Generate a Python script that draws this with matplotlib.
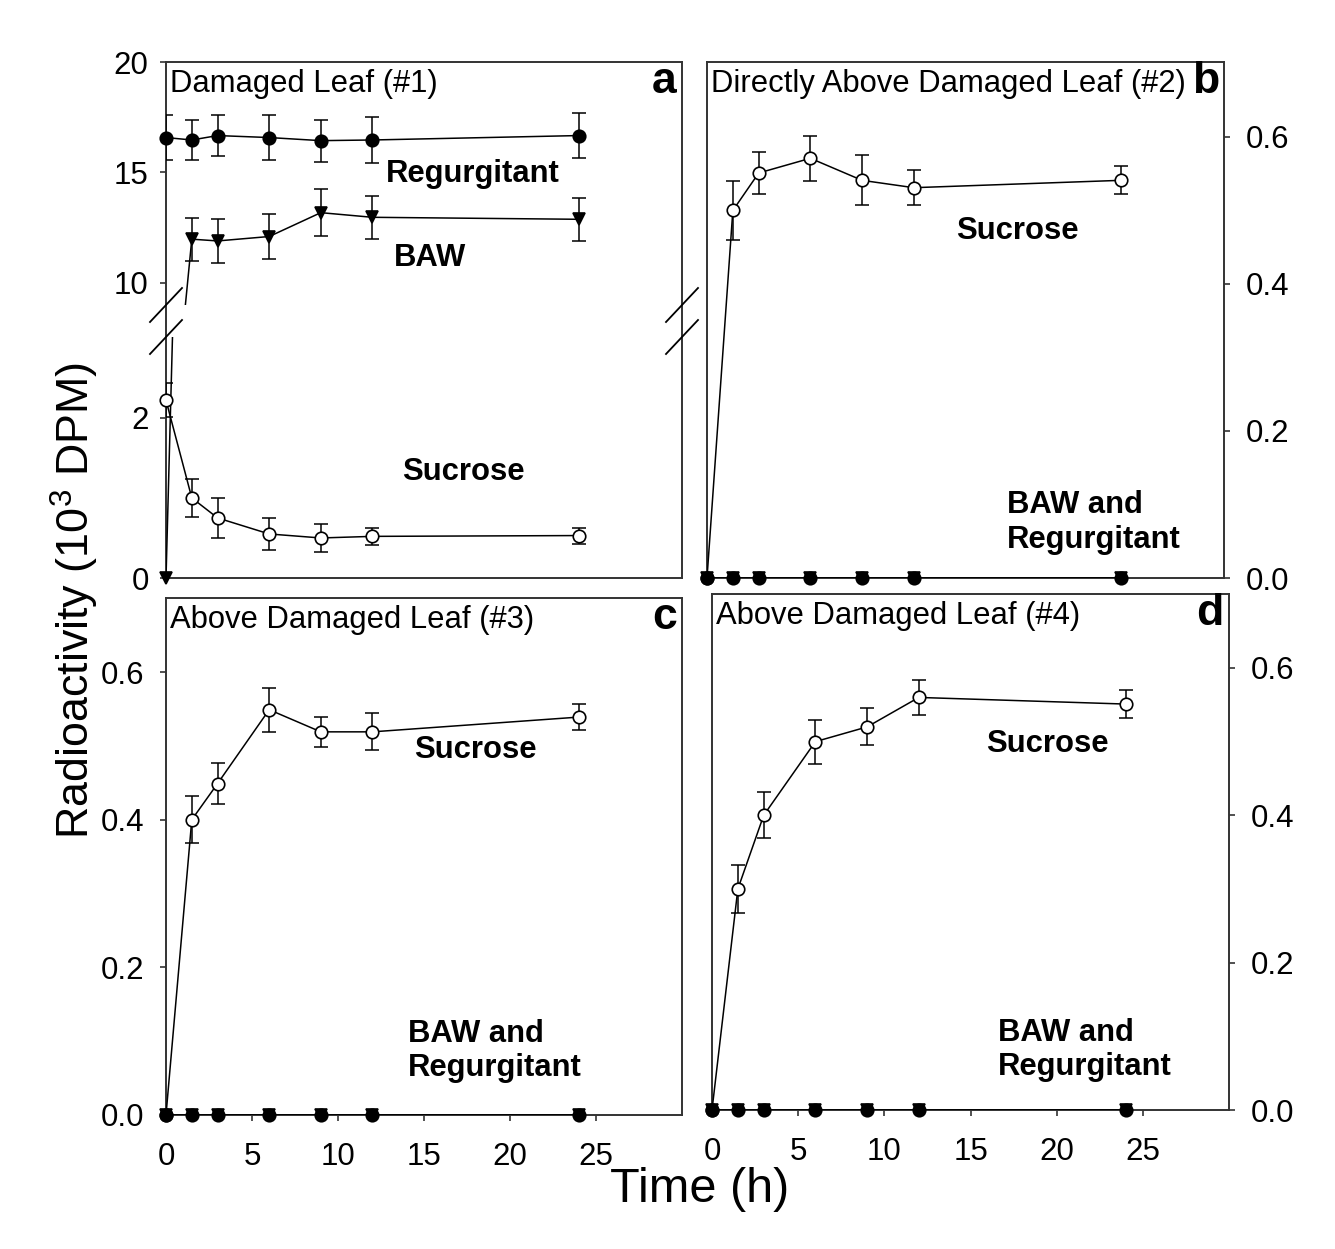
import numpy as np
import matplotlib
matplotlib.use("Agg")
import matplotlib.pyplot as plt
from matplotlib.lines import Line2D

plt.rcParams["font.family"] = ["Liberation Sans", "DejaVu Sans"]
plt.rcParams["mathtext.fontset"] = "custom"
plt.rcParams["mathtext.rm"] = "Liberation Sans"

##### data (10^3 DPM)
time_h = [0, 1.5, 3, 6, 9, 12, 24]

a_regurg = [16.58, 16.47, 16.67, 16.58, 16.44, 16.47, 16.67]
a_regurg_err = [1.02, 0.89, 0.93, 1.02, 0.95, 1.02, 1.00]
a_baw = [0, 11.98, 11.90, 12.10, 13.18, 12.97, 12.88]
a_baw_err = [0, 0.98, 0.98, 1.03, 1.07, 0.97, 0.98]
a_sucrose = [2.22, 1.00, 0.75, 0.55, 0.50, 0.52, 0.53]
a_sucrose_err = [0.21, 0.24, 0.25, 0.20, 0.17, 0.11, 0.10]

b_sucrose = [0, 0.500, 0.551, 0.571, 0.541, 0.531, 0.541]
b_sucrose_err = [0, 0.040, 0.029, 0.031, 0.034, 0.024, 0.019]
c_sucrose = [0, 0.400, 0.449, 0.549, 0.519, 0.519, 0.539]
c_sucrose_err = [0, 0.032, 0.028, 0.030, 0.020, 0.025, 0.018]
d_sucrose = [0, 0.300, 0.400, 0.500, 0.520, 0.560, 0.551]
d_sucrose_err = [0, 0.032, 0.031, 0.030, 0.025, 0.024, 0.019]
zeros = [0, 0, 0, 0, 0, 0, 0]

panel_titles = ["Damaged Leaf (#1)", "Directly Above Damaged Leaf (#2)",
                "Above Damaged Leaf (#3)", "Above Damaged Leaf (#4)"]
panel_letters = ["a", "b", "c", "d"]

W, H = 1335, 1249
fig = plt.figure(figsize=(W / 100, H / 100), dpi=100)

TICK_FS = 22.5
LBL_FS = 22.3
SPINE_C = "#333333"
LW = 1.1
MS = 9
CAP = 4.7


def px_axes(left, top, right, bottom):
    return fig.add_axes([left / W, 1 - bottom / H, (right - left) / W, (bottom - top) / H])


def style(ax):
    for s in ax.spines.values():
        s.set_color(SPINE_C)
        s.set_linewidth(1.4)
    ax.tick_params(direction="out", length=4.5, width=1.2, color=SPINE_C,
                   labelsize=TICK_FS, pad=11)
    ax.set_xlim(0, 30)


def series(ax, x, y, err, marker, mfc, lo=-1e9, hi=1e9, z=3):
    x = np.asarray(x, float)
    y = np.asarray(y, float)
    err = np.asarray(err, float)
    ax.plot(x, y, "-", color="k", lw=LW, zorder=z)
    has = err > 0
    if has.any():
        ax.errorbar(x[has], y[has], yerr=err[has], fmt="none", ecolor="k",
                    elinewidth=LW, capsize=CAP, capthick=LW, zorder=z)
    inside = (y >= lo) & (y <= hi)
    ax.plot(x[inside], y[inside], linestyle="none", marker=marker, ms=MS,
            mfc=mfc, mec="k", mew=1.2, color="k", clip_on=False, zorder=z + 1)


def labels(ax, title, letter, notes):
    ax.text(0.008, 0.957, title, transform=ax.transAxes, fontsize=LBL_FS,
            ha="left", va="center")
    ax.text(0.99, 0.962, letter, transform=ax.transAxes, fontsize=32,
            fontweight="bold", ha="right", va="center")
    for (tx, ty, s, ha) in notes:
        ax.text(tx, ty, s, transform=ax.transAxes, fontsize=LBL_FS,
                fontweight="bold", ha=ha, va="center", linespacing=1.2)


# ---------------- panel a (broken axis) ----------------
frame_a = px_axes(166, 62, 682, 578)
style(frame_a)
frame_a.set_xticks([])
frame_a.set_yticks([])

top_a = px_axes(166, 62, 682, 305)
bot_a = px_axes(166, 337, 682, 578)
for ax, lim in ((top_a, (9.0, 20)), (bot_a, (0, 3.01))):
    style(ax)
    ax.patch.set_visible(False)
    for s in ax.spines.values():
        s.set_visible(False)
    ax.set_ylim(*lim)
    ax.set_xticks([])
    ax.tick_params(axis="y", pad=8)
top_a.set_yticks([10, 15, 20])
bot_a.set_yticks([0, 2])

for ax in (top_a, bot_a):
    lo, hi = ax.get_ylim()
    series(ax, time_h, a_regurg, a_regurg_err, "o", "k", lo, hi)
    series(ax, time_h, a_baw, a_baw_err, "v", "k", lo, hi)
    series(ax, time_h, a_sucrose, a_sucrose_err, "o", "white", lo, hi)

# break marks on both sides
for xc in (166, 682):
    for yc in (305, 337):
        fig.add_artist(Line2D([(xc - 16) / W, (xc + 16) / W],
                              [1 - (yc + 17) / H, 1 - (yc - 17) / H],
                              transform=fig.transFigure, color="k", lw=1.3))

labels(frame_a, panel_titles[0], panel_letters[0],
       [(0.595, 0.783, "Regurgitant", "center"),
        (0.512, 0.620, "BAW", "center"),
        (0.576, 0.205, "Sucrose", "center")])

# ---------------- panels b, c, d ----------------
ax_b = px_axes(707, 62, 1224, 578)
ax_c = px_axes(166, 598, 682, 1115)
ax_d = px_axes(712, 594, 1229, 1110)

panel_data = [
    (ax_b, b_sucrose, b_sucrose_err, 0.702),
    (ax_c, c_sucrose, c_sucrose_err, 0.7003),
    (ax_d, d_sucrose, d_sucrose_err, 0.7004),
]
for ax, suc, suc_err, top in panel_data:
    style(ax)
    ax.set_ylim(0, top)
    ax.set_yticks([0.0, 0.2, 0.4, 0.6])
    ax.yaxis.set_major_formatter(matplotlib.ticker.FormatStrFormatter("%.1f"))
    series(ax, time_h, suc, suc_err, "o", "white", z=3)
    series(ax, time_h, zeros, zeros, "v", "k", z=5)
    series(ax, time_h, zeros, zeros, "o", "k", z=6)

ax_b.set_xticks([])
for ax in (ax_b, ax_d):
    ax.yaxis.tick_right()
    ax.tick_params(axis="y", left=False, right=True)
for ax in (ax_c, ax_d):
    ax.set_xticks([0, 5, 10, 15, 20, 25])
    ax.tick_params(axis="x", pad=15)

labels(ax_b, panel_titles[1], panel_letters[1],
       [(0.600, 0.672, "Sucrose", "center"),
        (0.580, 0.107, "BAW and\nRegurgitant", "left")])
labels(ax_c, panel_titles[2], panel_letters[2],
       [(0.599, 0.706, "Sucrose", "center"),
        (0.469, 0.124, "BAW and\nRegurgitant", "left")])
labels(ax_d, panel_titles[3], panel_letters[3],
       [(0.648, 0.709, "Sucrose", "center"),
        (0.553, 0.116, "BAW and\nRegurgitant", "left")])

fig.text(75 / W, 1 - 600 / H, r"Radioactivity (10$^{3}$ DPM)", rotation=90,
         fontsize=32.3, ha="center", va="center")
fig.text(700 / W, 1 - 1190 / H, "Time (h)", fontsize=35, ha="center", va="center")

fig.savefig("out.png", dpi=100, facecolor="white")
